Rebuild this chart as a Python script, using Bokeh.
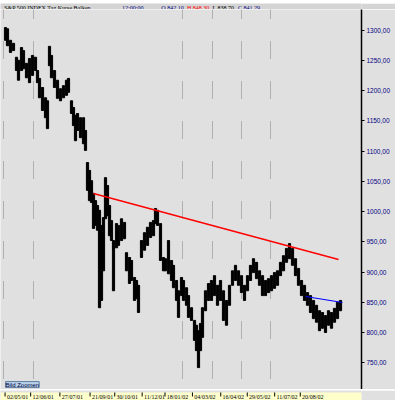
from bokeh.plotting import figure
from bokeh.models import Range1d, FixedTicker, Grid, Label
from bokeh.layouts import column
from bokeh.embed import file_html
from bokeh.resources import INLINE

# ---- data ----
bar_x = [5, 7, 10, 13, 16, 18, 21, 23, 26, 29, 32, 35, 37, 39, 42, 45, 47, 49, 51, 54,
         57, 60, 63, 66, 68, 71, 73, 75, 77, 80, 83, 85, 87, 89, 91, 93, 95, 97, 99, 101,
         103, 105, 107, 109, 111, 113, 116, 118, 121, 124, 126, 129, 131, 134, 136, 138, 141, 144, 147, 150,
         153, 155, 157, 160, 163, 165, 168, 171, 173, 176, 178, 181, 183, 186, 188, 191, 194, 196, 198, 200,
         202, 205, 208, 211, 214, 217, 220, 223, 226, 229, 232, 235, 238, 241, 244, 247, 250, 253, 256, 259,
         262, 265, 268, 271, 274, 277, 280, 283, 286, 289, 292, 295, 298, 301, 304, 307, 310, 313, 316, 319,
         322, 325, 328, 331, 334, 337, 340]
bar_high = [1304, 1302, 1283, 1278, 1255, 1250, 1271, 1266, 1245, 1253, 1258, 1255, 1233, 1220, 1205, 1188, 1183, 1273, 1258, 1233,
            1217, 1203, 1208, 1217, 1220, 1183, 1172, 1159, 1162, 1155, 1155, 1134, 1081, 1068, 1051, 1030, 1018, 1010, 1002, 977,
            990, 1056, 1043, 1010, 985, 952, 980, 977, 988, 982, 932, 924, 919, 891, 886, 878, 952, 965, 974, 982,
            985, 1005, 1002, 980, 924, 922, 952, 919, 911, 886, 869, 891, 886, 874, 861, 841, 820, 812, 803, 815,
            841, 869, 881, 886, 894, 878, 886, 869, 853, 878, 902, 911, 902, 894, 878, 894, 911, 922, 916, 902,
            894, 886, 889, 894, 899, 902, 916, 927, 939, 947, 939, 922, 906, 886, 878, 866, 861, 853, 845, 836,
            833, 828, 836, 833, 840, 850, 853]
bar_low = [1283, 1274, 1263, 1266, 1233, 1217, 1233, 1236, 1221, 1213, 1225, 1233, 1213, 1188, 1167, 1155, 1137, 1241, 1221, 1205,
           1187, 1183, 1188, 1192, 1197, 1162, 1142, 1117, 1134, 1122, 1112, 1101, 1035, 1018, 1015, 972, 977, 969, 841, 853,
           902, 988, 993, 960, 952, 869, 940, 944, 952, 955, 902, 881, 886, 853, 856, 833, 924, 936, 944, 957,
           960, 980, 977, 919, 902, 902, 897, 886, 874, 853, 825, 861, 853, 845, 825, 820, 787, 770, 742, 770,
           792, 836, 853, 853, 861, 845, 853, 820, 812, 845, 878, 886, 878, 866, 853, 869, 886, 899, 889, 878,
           861, 861, 866, 869, 873, 878, 894, 902, 916, 922, 911, 894, 878, 861, 853, 845, 833, 823, 817, 803,
           807, 800, 812, 807, 817, 823, 836]

last_value = 841.29
trend_red_x = [93, 338]
trend_red_y = [1029.8, 920.7]
trend_blue_x = [305, 342]
trend_blue_y = [859.5, 849.6]

y_ticks = [750, 800, 850, 900, 950, 1000, 1050, 1100, 1150, 1200, 1250, 1300]
y_tick_labels = ["750,00", "800,00", "850,00", "900,00", "950,00", "1000,00",
                 "1050,00", "1100,00", "1150,00", "1200,00", "1250,00", "1300,00"]
grid_x = [3, 33, 182, 212, 241, 270]
date_ticks = [5, 33, 65, 98, 125, 155, 180, 210, 241, 270, 300, 328]
date_labels = ["02/05/01", "12/06/01", "27/07/01", "21/09/01", "30/10/01", "11/12/01",
               "18/01/02", "04/03/02", "16/04/02", "29/05/02", "11/07/02", "20/08/02"]
title_parts = ["S&P 500 INDEX   Tag   Kurse   Balken", "12:00:00",
               "O 842,10", "H 848,30", "L 838,70", "C 841,29"]
title_colors = ["black", "#000080", "#000080", "#ff0000", "black", "#000080"]
title_x = [4, 133, 176, 204, 232, 260]

BG = "#e0e0e0"
BAR = "#d4d4d4"
YEL = "#ffffcc"
FONT = "Liberation Sans Narrow, Liberation Sans"

# ---- top status bar ----
t = figure(width=395, height=9, x_range=Range1d(0, 395), y_range=Range1d(0, 9),
           output_backend="svg", toolbar_location=None,
           x_axis_location=None, y_axis_location=None, min_border=0)
t.background_fill_color = BAR
t.border_fill_color = BAR
t.outline_line_color = None
t.grid.visible = False
t.text(x=title_x, y=[5] * len(title_x), text=title_parts, text_color=title_colors,
       text_font_size="6px", text_baseline="middle", text_align="left",
       text_font=FONT)
t.segment(x0=[0], y0=[0.5], x1=[395], y1=[0.5], line_color="#808080", line_width=1)
t.segment(x0=[361], y0=[0.5], x1=[395], y1=[0.5], line_color="black", line_width=1.5)

# ---- main chart ----
p = figure(width=395, height=380, x_range=Range1d(0, 361), y_range=Range1d(705.8, 1333.9),
           output_backend="svg", toolbar_location=None,
           x_axis_location=None, y_axis_location="right",
           min_border_left=0, min_border_top=0, min_border_bottom=0, min_border_right=34)
p.background_fill_color = BG
p.border_fill_color = BG
p.outline_line_color = None
p.grid.visible = False

ax = p.yaxis[0]
ax.ticker = FixedTicker(ticks=y_ticks)
ax.major_label_overrides = {tk: lb for tk, lb in zip(y_ticks, y_tick_labels)}
ax.major_label_text_color = "#000080"
ax.major_label_text_font = FONT
ax.major_label_text_font_size = "6.5px"
ax.major_label_standoff = 2
ax.major_tick_in = 0
ax.major_tick_out = 3
ax.major_tick_line_color = "black"
ax.minor_tick_line_color = None
ax.axis_line_color = "black"
ax.axis_line_width = 1.5

g = Grid(dimension=0, ticker=FixedTicker(ticks=grid_x),
         grid_line_color="#808080", grid_line_width=1,
         grid_line_dash="1 1 1 1 1 1 1 1 1 1 1 1 1 1 1 1 1 23",
         grid_line_dash_offset=29)
p.add_layout(g)

p.vbar(x=bar_x, top=bar_high, bottom=bar_low, width=2.2, color="black")
p.line(trend_red_x, trend_red_y, line_color="#ff0000", line_width=1.5)
p.line(trend_blue_x, trend_blue_y, line_color="#0000ff", line_width=1.2)

p.add_layout(Label(x=362, y=last_value, x_units="screen", y_units="data",
                   text="841,29", text_font=FONT, text_font_size="8px",
                   text_color="black", text_baseline="middle",
                   background_fill_color="#ffffa0", border_line_color=None))
p.add_layout(Label(x=5, y=709, text="Bild Zoomen", text_font=FONT, text_font_size="6px",
                   text_color="#000040", background_fill_color="#b8d0e8",
                   border_line_color="#6080a0"))

# ---- bottom date band ----
b = figure(width=395, height=11, x_range=Range1d(0, 395), y_range=Range1d(0, 11),
           output_backend="svg", toolbar_location=None,
           x_axis_location=None, y_axis_location=None, min_border=0)
b.background_fill_color = BG
b.border_fill_color = BG
b.outline_line_color = None
b.grid.visible = False
b.quad(left=[0], right=[395], bottom=[0], top=[9], fill_color=YEL, line_color=None)
b.segment(x0=date_ticks, y0=[9] * len(date_ticks), x1=date_ticks, y1=[5] * len(date_ticks),
          line_color="black", line_width=1)
b.text(x=[tk + 2 for tk in date_ticks], y=[5] * len(date_ticks), text=date_labels,
       text_font=FONT, text_font_size="6px", text_baseline="middle", text_align="left",
       text_color="black")

layout = column(t, p, b, spacing=0)
open("out.html", "w").write(file_html(layout, INLINE))
